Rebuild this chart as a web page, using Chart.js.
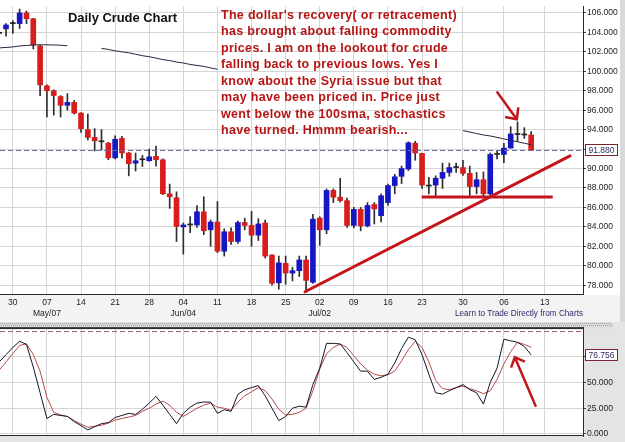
<!DOCTYPE html>
<html>
<head>
<meta charset="utf-8">
<title>Daily Crude Chart</title>
<script src="https://cdn.jsdelivr.net/npm/chart.js@4.4.1/dist/chart.umd.min.js"></script>
<style>
    html, body { margin: 0; padding: 0; background: #ffffff; }
    #wrap { position: relative; width: 625px; height: 442px; overflow: hidden; }
    #main { position: absolute; left: 0; top: 0; }
    #stoch { position: absolute; left: 0; top: 322px; }
</style>
</head>
<body>
<div id="wrap">
    <canvas id="main" width="625" height="322"></canvas>
    <canvas id="stoch" width="625" height="120"></canvas>
</div>
<script>
// daily candles, index 0 is the partly hidden bar at the left edge
const opens = [
    103.9, 104.36, 104.9, 104.9, 106.0, 105.4, 102.6, 98.5, 98.0, 97.4,
    96.5, 96.8, 95.7, 94.0, 93.2, 92.8, 92.6, 91.1, 93.1, 91.6,
    90.55, 90.9, 90.8, 91.25, 90.9, 87.4, 87.0, 84.0, 84.2, 84.2,
    85.55, 83.7, 84.5, 81.5, 83.5, 82.5, 84.45, 84.15, 83.15, 84.4,
    81.1, 78.25, 80.25, 79.25, 79.5, 80.6, 78.3, 84.9, 83.7, 87.75,
    87.05, 86.7, 84.15, 85.8, 84.1, 86.3, 85.15, 86.5, 88.25, 89.2,
    89.95, 92.6, 91.55, 88.3, 88.3, 89.0, 89.6, 90.1, 90.1, 89.5,
    88.15, 88.85, 87.4, 91.45, 91.45, 92.1, 93.55, 93.5, 93.45
];
const highs = [
    104.2, 104.9, 105.2, 106.4, 106.2, 105.45, 102.7, 98.6, 98.1, 97.5,
    97.7, 97.0, 95.75, 95.6, 94.1, 94.0, 92.7, 93.35, 93.3, 91.65,
    91.6, 91.35, 92.0, 92.3, 91.0, 88.4, 87.6, 84.4, 85.05, 86.2,
    87.1, 84.7, 86.6, 83.8, 83.9, 84.6, 84.9, 85.6, 84.85, 84.7,
    81.15, 81.0, 81.0, 79.85, 81.0, 81.0, 85.3, 85.05, 87.9, 87.9,
    89.0, 86.95, 86.0, 86.0, 86.5, 86.5, 87.4, 88.4, 89.4, 90.25,
    92.75, 92.8, 91.6, 89.1, 89.25, 90.55, 90.55, 90.55, 90.85, 90.25,
    89.6, 89.65, 91.6, 91.8, 92.6, 94.3, 94.8, 94.2, 93.8
];
const lows = [
    103.5, 103.6, 103.9, 104.4, 104.9, 102.3, 97.5, 95.3, 95.5, 95.3,
    96.0, 95.6, 93.7, 92.95, 91.8, 91.9, 90.9, 91.0, 91.1, 89.25,
    89.75, 90.2, 90.75, 90.25, 87.3, 85.9, 82.5, 81.2, 83.4, 83.95,
    83.2, 82.0, 81.35, 81.0, 82.2, 82.3, 83.7, 82.0, 82.6, 80.8,
    78.0, 77.6, 78.1, 78.45, 78.9, 77.3, 78.2, 82.1, 83.3, 86.5,
    86.55, 83.95, 83.9, 83.6, 84.0, 84.3, 84.5, 86.2, 87.4, 88.45,
    89.8, 90.85, 87.95, 87.4, 87.05, 87.95, 89.2, 89.6, 89.3, 87.25,
    87.4, 87.05, 87.25, 91.0, 90.6, 92.1, 92.8, 93.1, 91.85
];
const closes = [
    103.95, 104.76, 104.92, 106.0, 105.4, 102.7, 98.6, 98.0, 97.5, 96.5,
    96.8, 95.7, 94.1, 93.2, 92.85, 92.75, 91.1, 93.0, 91.6, 90.5,
    90.8, 90.9, 91.2, 90.9, 87.4, 87.1, 84.05, 84.2, 84.2, 85.55,
    83.6, 84.5, 81.5, 83.5, 82.5, 84.45, 84.15, 83.15, 84.3, 81.0,
    78.2, 80.3, 79.25, 79.5, 80.6, 78.5, 84.8, 83.7, 87.75, 87.05,
    86.7, 84.15, 85.8, 84.1, 86.2, 85.85, 87.2, 88.25, 89.15, 90.0,
    92.65, 91.6, 88.3, 88.2, 89.0, 89.6, 90.1, 90.12, 89.5, 88.15,
    88.85, 87.4, 91.45, 91.5, 92.1, 93.55, 93.5, 93.45, 91.88
];

// 100 day SMA, null where the notes hide it
const sma100 = [
    102.4, 102.45, 102.5, 102.6, 102.65, 102.7, 102.72, 102.72, 102.7, 102.68,
    102.62, null, null, null, null, 102.35, 102.25, 102.1, 102.0, 101.9,
    101.75, 101.6, 101.5, 101.35, 101.2, 101.1, 100.95, 100.85, 100.7, 100.6,
    100.5, 100.35, 100.2, null, null, null, null, null, null, null,
    null, null, null, null, null, null, null, null, null, null,
    null, null, null, null, null, null, null, null, null, null,
    null, null, null, null, null, null, null, null, 93.9, 93.75,
    93.6, 93.45, 93.35, 93.2, 93.05, 92.9, 92.75, 92.6, 92.45
];

// slow stochastics
const stochK = [
    70, 77, 84, 90, 87, 65, 40, 15, 19, 18,
    17, 12, 8, 4, 7, 10, 11, 16, 18, 20,
    19, 24, 30, 36.5, 28, 19, 10, 20, 26, 30,
    31, 31, 20, 23.5, 22, 38.5, 43, 45, 47, 37,
    25, 13, 17, 25, 27, 26, 48, 64, 88, 88,
    87.4, 79, 70, 61, 61, 53, 55, 58, 69, 83,
    94, 91.5, 77, 58, 40, 38.7, 42, 45, 48, 43,
    40, 29, 50, 64, 92, 90.5, 89, 85, 76.756
];
const stochD = [
    62, 70, 78, 86, 87.5, 77, 61, 35.5, 21, 18.5,
    17, 13, 9.5, 6.5, 7.5, 8.5, 10.5, 13.5, 15, 16.5,
    18, 22, 25, 29, 32, 28, 21, 17, 21, 25,
    28, 30, 26, 25, 23, 31, 37, 41, 45, 42,
    34, 24, 18.5, 19, 21, 25, 42, 63, 78, 84,
    87.4, 84, 76, 68, 62, 58, 56.5, 57.5, 61, 71,
    82, 90, 84, 70, 52, 44, 43, 45, 46.5, 44,
    42, 39, 42, 53, 68, 80, 89, 87, 84
];

const tickIdx = [2, 7, 12, 17, 22, 27, 32, 37, 42, 47, 52, 57, 62, 68, 74, 80];
const tickDays = ['30', '07', '14', '21', '28', '04', '11', '18', '25', '02', '09', '16', '23', '30', '06', '13'];
const tickMonths = ['', 'May/07', '', '', '', 'Jun/04', '', '', '', 'Jul/02', '', '', '', '', '', ''];
const priceTicks = [78, 80, 82, 84, 86, 88, 90, 92, 94, 96, 98, 100, 102, 104, 106];
const stochTicks = [0, 25, 50, 75];

const noteLines = [
    "The dollar's recovery( or retracement)",
    'has brought about falling commodity',
    'prices. I am on the lookout for crude',
    'falling back to previous lows. Yes I',
    'know about the Syria issue but that',
    'may have been priced in. Price just',
    'went below the 100sma, stochastics',
    'have turned. Hmmm bearish...',
];

const FONT = '"Liberation Sans", Arial, sans-serif';
const RED = '#c3161c';
const GRID = '#d6d6d6';
const X_MIN = 0.12;
const X_MAX = 85.6;

function drawArrow(ctx, x1, y1, x2, y2, head) {
    const a = Math.atan2(y2 - y1, x2 - x1);
    ctx.beginPath();
    ctx.moveTo(x1, y1);
    ctx.lineTo(x2, y2);
    ctx.stroke();
    ctx.beginPath();
    ctx.moveTo(x2 - head * Math.cos(a - 0.75), y2 - head * Math.sin(a - 0.75));
    ctx.lineTo(x2, y2);
    ctx.lineTo(x2 - head * Math.cos(a + 0.75), y2 - head * Math.sin(a + 0.75));
    ctx.stroke();
}

function valueBox(ctx, chart, value, text) {
    const y = Math.round(chart.scales.y.getPixelForValue(value));
    const x = chart.chartArea.right + 2;
    ctx.font = '8.5px ' + FONT;
    const w = ctx.measureText(text).width + 6;
    ctx.fillStyle = '#ffffff';
    ctx.fillRect(x, y - 6, w, 11);
    ctx.strokeStyle = '#7c2434';
    ctx.lineWidth = 1;
    ctx.strokeRect(x + 0.5, y - 5.5, w, 11);
    ctx.fillStyle = '#2c2c60';
    ctx.textBaseline = 'middle';
    ctx.textAlign = 'left';
    ctx.fillText(text, x + 3.5, y + 0.5);
}

const mainDecor = {
    id: 'mainDecor',
    beforeDraw(chart) {
        const { ctx, width, chartArea } = chart;
        ctx.save();
        ctx.fillStyle = '#ffffff';
        ctx.fillRect(0, 0, width, chart.height);
        ctx.fillStyle = '#f3f3f3';
        ctx.fillRect(0, chartArea.bottom + 1, width, chart.height - chartArea.bottom);
        ctx.fillStyle = '#d9d9d9';
        ctx.fillRect(620, 0, 5, chart.height);
        ctx.restore();
    },
    afterDatasetsDraw(chart) {
        const { ctx, chartArea } = chart;
        const x = chart.scales.x;
        const y = chart.scales.y;
        const last = closes[closes.length - 1];

        ctx.save();
        // last price line
        const ly = Math.round(y.getPixelForValue(last)) + 0.5;
        ctx.strokeStyle = '#6a6aa6';
        ctx.lineWidth = 1;
        ctx.setLineDash([5, 3]);
        ctx.beginPath();
        ctx.moveTo(chartArea.left, ly);
        ctx.lineTo(chartArea.right, ly);
        ctx.stroke();
        ctx.setLineDash([]);

        // hand drawn trend lines
        ctx.strokeStyle = RED;
        ctx.lineWidth = 3;
        ctx.lineCap = 'round';
        ctx.beginPath();
        ctx.moveTo(x.getPixelForValue(44.84), y.getPixelForValue(77.33));
        ctx.lineTo(x.getPixelForValue(83.7), y.getPixelForValue(91.3));
        ctx.stroke();
        ctx.lineCap = 'butt';
        ctx.beginPath();
        ctx.moveTo(x.getPixelForValue(61.95), y.getPixelForValue(87.07));
        ctx.lineTo(x.getPixelForValue(81.16), y.getPixelForValue(87.07));
        ctx.stroke();
        ctx.lineWidth = 2.5;
        drawArrow(ctx, x.getPixelForValue(72.95), y.getPixelForValue(97.91),
            x.getPixelForValue(75.9), y.getPixelForValue(95.07), 12);

        // title
        ctx.textBaseline = 'middle';
        ctx.textAlign = 'left';
        ctx.font = 'bold 13px ' + FONT;
        let w = ctx.measureText('Daily Crude Chart').width;
        ctx.letterSpacing = ((109 - w) / 17).toFixed(2) + 'px';
        ctx.fillStyle = '#111111';
        ctx.fillText('Daily Crude Chart', 68, 18);

        // note
        ctx.letterSpacing = '0px';
        ctx.font = 'bold 12.5px ' + FONT;
        w = ctx.measureText(noteLines[0]).width;
        ctx.letterSpacing = ((236 - w) / noteLines[0].length).toFixed(2) + 'px';
        ctx.fillStyle = '#b51515';
        noteLines.forEach((line, i) => {
            ctx.fillText(line, 221, 15.5 + i * 16.45);
        });
        ctx.letterSpacing = '0px';

        // footer text
        ctx.font = '9px ' + FONT;
        ctx.fillStyle = '#2b2b6b';
        ctx.fillText('Learn to Trade Directly from Charts', 455, 314, 128);
        ctx.restore();
    },
    afterDraw(chart) {
        const { ctx } = chart;
        ctx.save();
        valueBox(ctx, chart, closes[closes.length - 1], closes[closes.length - 1].toFixed(3));
        ctx.restore();
    },
};

const stochDecor = {
    id: 'stochDecor',
    beforeDraw(chart) {
        const { ctx, width, height, chartArea: a } = chart;
        ctx.save();
        ctx.fillStyle = '#e4e4e4';
        ctx.fillRect(0, 0, width, height);
        ctx.fillStyle = '#dddddd';
        ctx.fillRect(0, 0, 613, a.top);
        ctx.fillStyle = '#9c9c9c';
        for (let i = 0; i < 612; i += 2) {
            ctx.fillRect(i, 1, 1, 1);
            ctx.fillRect(i + 1, 3, 1, 1);
        }
        ctx.fillStyle = '#ffffff';
        ctx.fillRect(a.left, a.top, a.right - a.left, a.bottom - a.top);
        ctx.restore();
    },
    afterDraw(chart) {
        const { ctx, chartArea: a } = chart;
        const x = chart.scales.x;
        const y = chart.scales.y;
        ctx.save();
        // overbought line
        const dy = Math.round(y.getPixelForValue(100)) + 0.5;
        ctx.strokeStyle = '#a86060';
        ctx.lineWidth = 1;
        ctx.setLineDash([5, 3]);
        ctx.beginPath();
        ctx.moveTo(a.left, dy);
        ctx.lineTo(a.right, dy);
        ctx.stroke();
        ctx.setLineDash([]);

        // frame
        ctx.fillStyle = '#303030';
        ctx.fillRect(0, a.top - 1, a.right + 1, 2);
        ctx.fillRect(a.right, a.top - 1, 1, a.bottom - a.top + 2);

        // arrow
        ctx.strokeStyle = RED;
        ctx.lineWidth = 2.5;
        drawArrow(ctx, x.getPixelForValue(78.7), y.getPixelForValue(26.4),
            x.getPixelForValue(75.6), y.getPixelForValue(74.5), 11);

        valueBox(ctx, chart, stochK[stochK.length - 1], stochK[stochK.length - 1].toFixed(3));
        ctx.restore();
    },
};

function xAxis(showLabels, height) {
    return {
        type: 'linear',
        min: X_MIN,
        max: X_MAX,
        offset: false,
        grid: { color: GRID, offset: false, drawTicks: false },
        border: { display: true, color: '#2a2a2a', width: 1 },
        afterBuildTicks: (scale) => {
            scale.ticks = tickIdx.map((v) => ({ value: v }));
        },
        afterFit: (scale) => {
            scale.height = height;
        },
        ticks: {
            display: showLabels,
            autoSkip: false,
            maxRotation: 0,
            padding: 3,
            color: '#222222',
            font: { family: FONT, size: 8.5, lineHeight: 1.3 },
            callback: (value) => {
                const k = tickIdx.indexOf(value);
                if (k < 0) {
                    return '';
                }
                return tickMonths[k] ? [tickDays[k], tickMonths[k]] : tickDays[k];
            },
        },
    };
}

function yAxis(min, max, ticks) {
    return {
        position: 'right',
        min: min,
        max: max,
        grid: { color: GRID, tickColor: '#444444', tickLength: 3, drawTicks: true },
        border: { display: true, color: '#2a2a2a', width: 1 },
        afterBuildTicks: (scale) => {
            scale.ticks = ticks.map((v) => ({ value: v }));
        },
        afterFit: (scale) => {
            scale.width = 42;
        },
        ticks: {
            padding: 1,
            crossAlign: 'near',
            color: '#222222',
            font: { family: FONT, size: 8.5 },
            callback: (value) => Number(value).toFixed(3),
        },
    };
}

const bodyColors = opens.map((o, i) => {
    const c = closes[i];
    if (Math.abs(c - o) < 0.15) {
        return '#222222';
    }
    return c > o ? '#1616c4' : '#d91c1c';
});

new Chart(document.getElementById('main'), {
    type: 'bar',
    data: {
        datasets: [
            {
                type: 'line',
                label: 'SMA 100',
                data: sma100.map((v, i) => ({ x: i, y: v })),
                borderColor: '#262640',
                borderWidth: 1,
                pointRadius: 0,
                spanGaps: false,
                order: 1,
            },
            {
                label: 'Bodies',
                data: opens.map((o, i) => ({ x: i, y: [o, closes[i]] })),
                backgroundColor: bodyColors,
                barThickness: 5,
                maxBarThickness: 5,
                minBarLength: 1,
                grouped: false,
                order: 2,
            },
            {
                label: 'Wicks',
                data: lows.map((l, i) => ({ x: i, y: [l, highs[i]] })),
                backgroundColor: '#2e2e2e',
                barThickness: 1,
                maxBarThickness: 1,
                grouped: false,
                order: 3,
            },
        ],
    },
    options: {
        responsive: false,
        animation: false,
        devicePixelRatio: 1,
        events: [],
        layout: { padding: 0 },
        plugins: { legend: { display: false }, tooltip: { enabled: false } },
        scales: {
            x: xAxis(true, 28),
            y: yAxis(77.1, 106.7, priceTicks),
        },
    },
    plugins: [mainDecor],
});

new Chart(document.getElementById('stoch'), {
    type: 'line',
    data: {
        datasets: [
            {
                label: '%K',
                data: stochK.map((v, i) => ({ x: i, y: v })),
                borderColor: '#15152e',
                borderWidth: 1,
                pointRadius: 0,
                order: 1,
            },
            {
                label: '%D',
                data: stochD.map((v, i) => ({ x: i, y: v })),
                borderColor: '#b84a4a',
                borderWidth: 1,
                pointRadius: 0,
                order: 2,
            },
        ],
    },
    options: {
        responsive: false,
        animation: false,
        devicePixelRatio: 1,
        events: [],
        layout: { padding: { top: 5 } },
        plugins: { legend: { display: false }, tooltip: { enabled: false } },
        scales: {
            x: xAxis(false, 4),
            y: yAxis(-1.89, 102.83, stochTicks),
        },
    },
    plugins: [stochDecor],
});
</script>
</body>
</html>
